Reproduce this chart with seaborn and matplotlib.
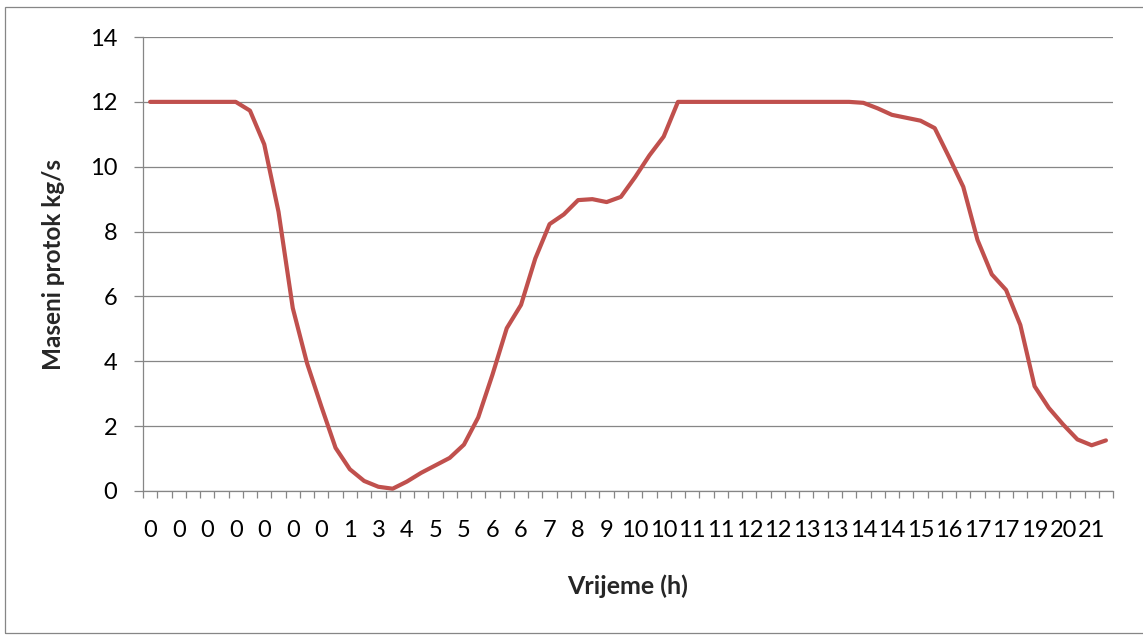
import numpy as np
import seaborn as sns
import matplotlib.pyplot as plt
from matplotlib.patches import Rectangle

# Mass flow, one value per time step (68 steps)
flow = [12, 12, 12, 12, 12, 12, 12, 11.73, 10.69, 8.61,
        5.64, 3.94, 2.61, 1.33, 0.67, 0.31, 0.13, 0.07, 0.29, 0.56,
        0.79, 1.02, 1.43, 2.27, 3.59, 5.02, 5.74, 7.17, 8.23, 8.53,
        8.97, 9.0, 8.91, 9.07, 9.68, 10.35, 10.93, 12, 12, 12,
        12, 12, 12, 12, 12, 12, 12, 12, 12, 12,
        11.97, 11.8, 11.6, 11.51, 11.42, 11.19, 10.3, 9.38, 7.74, 6.68,
        6.2, 5.12, 3.23, 2.56, 2.05, 1.59, 1.41, 1.56]
steps = np.arange(len(flow))

# Only every second step carries a label on the axis
hour_labels = ["0", "0", "0", "0", "0", "0", "0", "1", "3", "4", "5", "5",
               "6", "6", "7", "8", "9", "10", "10", "11", "11", "12", "12",
               "13", "13", "14", "14", "15", "16", "17", "17", "19", "20", "21"]

sns.set_theme(style="white")
plt.rcParams['font.family'] = ['Lato', 'DejaVu Sans']

grey = "#868686"
fig = plt.figure(figsize=(11.43, 6.35), dpi=100)
ax = fig.add_axes([0.1251, 0.2268, 0.8487, 0.7149])

sns.lineplot(x=steps, y=flow, color="#C0504D", linewidth=3.0, ax=ax)

ax.set_xlim(-0.5, len(flow) - 0.5)
ax.set_ylim(0, 14)
ax.set_yticks(np.arange(0, 15, 2))
ax.yaxis.grid(True, color=grey, linewidth=0.9)
ax.set_axisbelow(True)

# category labels on even steps, tick marks between categories
ax.set_xticks(steps[::2])
ax.set_xticklabels(hour_labels)
ax.set_xticks(np.arange(-0.5, len(flow)), minor=True)
ax.tick_params(axis="x", which="major", length=0, pad=21, labelsize=17, colors="black")
ax.tick_params(axis="x", which="minor", bottom=True, length=5, width=0.9, color=grey,
               direction="out")
ax.tick_params(axis="y", which="major", length=6.5, width=0.9, color=grey, direction="out",
               pad=12, labelsize=17, labelcolor="black", left=True)

for side in ["top", "right"]:
    ax.spines[side].set_visible(False)
for side in ["left", "bottom"]:
    ax.spines[side].set_color(grey)
    ax.spines[side].set_linewidth(0.9)

ax.set_xlabel("Vrijeme (h)", fontsize=18, fontweight="bold", va="top")
ax.set_ylabel("Maseni protok kg/s", fontsize=17.5, fontweight="bold")
ax.xaxis.set_label_coords(0.5, -0.183)
ax.yaxis.set_label_coords(-0.080, 0.5)

# chart area border (right edge falls just outside the image)
fig.patches.append(Rectangle((0.004, 0.0024), 1.0, 0.9866, transform=fig.transFigure,
                             fill=False, edgecolor=grey, linewidth=0.9))

plt.savefig("out.png", dpi=100)
